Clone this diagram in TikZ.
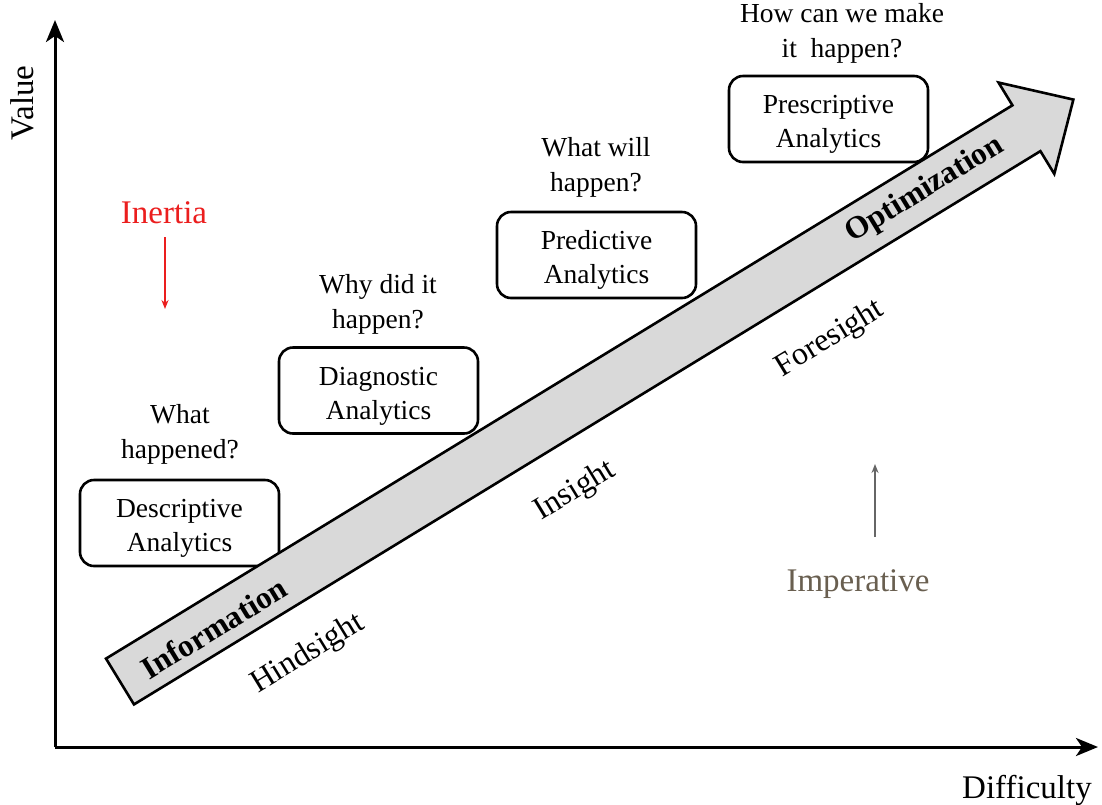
\documentclass[tikz,border=0pt]{standalone}
\usepackage{fontspec}
\setmainfont{Liberation Serif}
\usetikzlibrary{arrows.meta}
\definecolor{bandgray}{RGB}{217,217,217}
\definecolor{imperativecol}{RGB}{105,95,80}
\definecolor{inertiared}{RGB}{235,30,30}
\newcommand{\stagestrut}{\rule{0pt}{29pt}}
\begin{document}
\begin{tikzpicture}[x=1pt,y=-1pt,
  stage/.style={draw, fill=white, line width=2.6pt, rounded corners=14pt,
    minimum width=199pt, minimum height=86pt, align=center, inner sep=0pt,
    font=\fontsize{27.5}{34}\selectfont},
  question/.style={align=center, font=\fontsize{27.5}{35}\selectfont},
  axislabel/.style={font=\fontsize{33}{40}\selectfont},
  phase/.style={font=\fontsize{32}{38}\selectfont, rotate=31.4},
  bandlabel/.style={font=\bfseries\fontsize{31.5}{36}\selectfont, rotate=31.4},
  axis/.style={line width=3pt, -{Stealth[length=22pt,width=18pt,inset=6pt]}},
  hint/.style={line width=1.6pt, -{Stealth[length=9pt,width=7pt]}},
]
\path[use as bounding box] (0,0) rectangle (1102,804);

% axes
\coordinate (origin) at (55,747);
\coordinate (ytop) at (55,20);
\coordinate (xend) at (1098,747);
\draw[axis] (origin) -- (ytop);
\draw[axis] (origin) -- (xend);
\node[axislabel, rotate=90] (value) at (22,103) {Value};
\node[axislabel] (difficulty) at (1027,790) {Difficulty};

% analytics stages
\node[stage] (desc) at (179.5,523) {\stagestrut Descriptive\\Analytics};
\node[stage] (diag) at (378.5,390.5) {\stagestrut Diagnostic\\Analytics};
\node[stage] (pred) at (596.5,255) {\stagestrut Predictive\\Analytics};
\node[stage] (presc) at (828.5,119) {\stagestrut Prescriptive\\Analytics};

\node[question] (q1) at (180,434) {What\\happened?};
\node[question] (q2) at (378,304) {Why did it\\happen?};
\node[question] (q3) at (596,167) {What will\\happen?};
\node[question] (q4) at (842,33) {How can we make\\it\ \ happen?};

% the rising band
\begin{scope}[shift={(120,681.5)}, rotate=31.4]
  \draw[fill=bandgray, line width=2.6pt, line join=miter]
    (0,-26.85) -- (1062,-26.85) -- (1062,-53.5) -- (1117,0)
    -- (1062,53.5) -- (1062,26.85) -- (0,26.85) -- cycle;
\end{scope}
\node[bandlabel] (info) at (214,628) {Information};
\node[bandlabel] (optim) at (925,190) {Optimization};

% phases
\node[phase] (hind) at (308,654) {Hindsight};
\node[phase] (ins) at (575,491) {Insight};
\node[phase] (fore) at (830,339) {Foresight};

% forces
\node[axislabel, text=inertiared] (inertia) at (164,213) {Inertia};
\coordinate (inertiaend) at (165,309);
\draw[hint, draw=inertiared] (165,237) -- (inertiaend);

\node[axislabel, text=imperativecol] (imper) at (858,584) {Imperative};
\coordinate (imperend) at (875,464);
\draw[hint, draw=black!60] (875,537) -- (imperend);
\end{tikzpicture}
\end{document}
